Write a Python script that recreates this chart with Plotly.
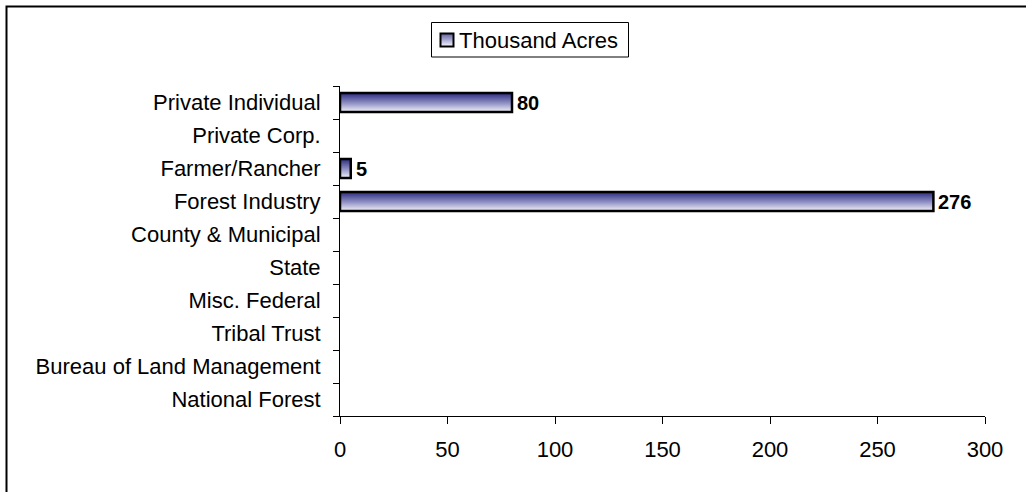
import plotly.graph_objects as go

# Ownership categories, listed top to bottom as shown on the axis
categories = [
    "Private Individual",
    "Private Corp.",
    "Farmer/Rancher",
    "Forest Industry",
    "County & Municipal",
    "State",
    "Misc. Federal",
    "Tribal Trust",
    "Bureau of Land Management",
    "National Forest",
]
# Thousand acres per category (0 = none)
acres = [80, 0, 5, 276, 0, 0, 0, 0, 0, 0]
series_name = "Thousand Acres"
x_ticks = [0, 50, 100, 150, 200, 250, 300]

FONT = "Liberation Sans, Arial, Helvetica, sans-serif"
W, H = 1026, 492
L, R, T, B = 340, 985, 86, 416          # plot area in pixels
GRAD = [[0.0, "#f4f4fa"], [0.45, "#9494c6"], [1.0, "#2a2a80"]]
HALF = 0.29                               # half bar thickness (category units)

n = len(categories)
ypos = [n - 1 - i for i in range(n)]      # top category gets the highest y


def px_x(p):
    return (p - L) / (R - L)


def px_y(p):
    return (B - p) / (B - T)


def hex_rgb(h):
    h = h.lstrip("#")
    return tuple(int(h[i:i + 2], 16) for i in (0, 2, 4))


def grad_color(t):
    """Colour of the bar gradient at t (0 = bottom, 1 = top)."""
    for (a, ca), (b, cb) in zip(GRAD[:-1], GRAD[1:]):
        if a <= t <= b:
            f = (t - a) / (b - a)
            c0, c1 = hex_rgb(ca), hex_rgb(cb)
            return "rgb(%d,%d,%d)" % tuple(round(u + (v - u) * f) for u, v in zip(c0, c1))
    return GRAD[-1][1]


fig = go.Figure()

for cat, v, y in zip(categories, acres, ypos):
    if not v:
        continue
    fig.add_trace(go.Scatter(
        x=[0, v, v, 0, 0],
        y=[y - HALF, y - HALF, y + HALF, y + HALF, y - HALF],
        mode="lines",
        fill="toself",
        fillgradient=dict(type="vertical", colorscale=GRAD),
        line=dict(color="black", width=2.5),
        name=cat,
        hoverinfo="skip",
        showlegend=False,
    ))
    fig.add_annotation(
        x=v, y=y, xref="x", yref="y",
        text=f"<b>{v}</b>", showarrow=False,
        xanchor="left", yanchor="middle", xshift=3,
        font=dict(family=FONT, size=20, color="black"),
    )

# Outer chart frame (runs off the right and bottom of the page)
fig.add_shape(
    type="rect", xref="paper", yref="paper",
    x0=px_x(6.5), x1=px_x(W + 20), y0=px_y(H + 20), y1=px_y(6.5),
    line=dict(color="black", width=2), fillcolor="rgba(0,0,0,0)", layer="below",
)

# Legend box
fig.add_shape(
    type="rect", xref="paper", yref="paper",
    x0=px_x(431.5), x1=px_x(628.5), y0=px_y(57), y1=px_y(22.5),
    line=dict(color="black", width=1), fillcolor="rgba(0,0,0,0)",
)
# Legend swatch: gradient built from thin strips, then a black outline
SX0, SX1, SY0, SY1 = 440.5, 453.5, 33.5, 46.5
steps = 13
for k in range(steps):
    top = SY0 + (SY1 - SY0) * k / steps
    bot = SY0 + (SY1 - SY0) * (k + 1) / steps
    t = 1 - (k + 0.5) / steps
    fig.add_shape(
        type="rect", xref="paper", yref="paper",
        x0=px_x(SX0), x1=px_x(SX1), y0=px_y(bot), y1=px_y(top),
        line=dict(width=0), fillcolor=grad_color(t),
    )
fig.add_shape(
    type="rect", xref="paper", yref="paper",
    x0=px_x(SX0), x1=px_x(SX1), y0=px_y(SY1), y1=px_y(SY0),
    line=dict(color="black", width=2), fillcolor="rgba(0,0,0,0)",
)
fig.add_annotation(
    x=px_x(456.5), y=px_y(40), xref="paper", yref="paper",
    text=series_name, showarrow=False, xanchor="left", yanchor="middle",
    font=dict(family=FONT, size=22, color="black"),
)

fig.update_layout(
    width=W, height=H,
    margin=dict(l=L, r=W - R, t=T, b=H - B, pad=0),
    paper_bgcolor="white", plot_bgcolor="white",
    font=dict(family=FONT, size=22, color="black"),
    showlegend=False,
    xaxis=dict(
        range=[0, 300], tickmode="array", tickvals=x_ticks,
        ticks="outside", ticklen=7, tickwidth=1, tickcolor="black",
        showline=True, linecolor="black", linewidth=1,
        showgrid=False, zeroline=False, fixedrange=True,
        tickfont=dict(family=FONT, size=22),
        ticklabelstandoff=7,
    ),
    yaxis=dict(
        range=[-0.5, n - 0.5], tickmode="array", tickvals=ypos, ticktext=categories,
        ticks="outside", ticklen=6, tickcolor="rgba(0,0,0,0)",
        minor=dict(tickmode="array", tickvals=[k - 0.5 for k in range(n + 1)],
                   ticks="outside", ticklen=6, tickwidth=1, tickcolor="black",
                   showgrid=False),
        showline=True, linecolor="black", linewidth=1,
        showgrid=False, zeroline=False, fixedrange=True,
        tickfont=dict(family=FONT, size=22),
        ticklabelstandoff=8,
    ),
)

fig.write_html("out.html", config={"displayModeBar": False})
